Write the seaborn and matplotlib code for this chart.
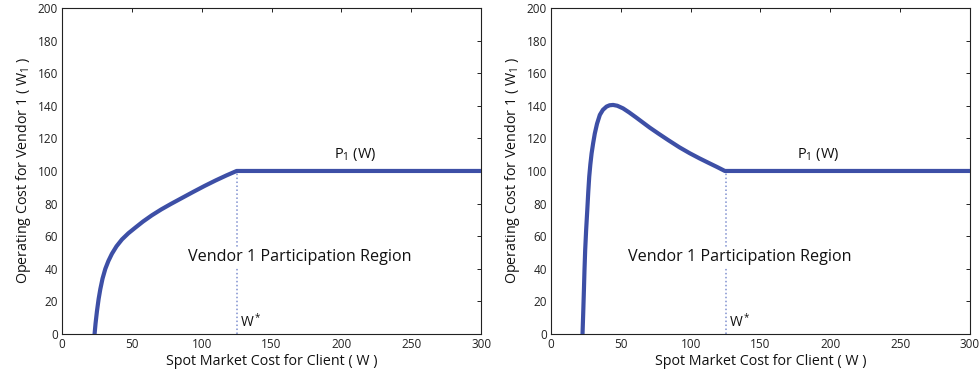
import matplotlib
matplotlib.use("Agg")
import pandas as pd
import seaborn as sns
import matplotlib.pyplot as plt

# values
left_x = [23.3, 24.0, 25.0, 26.2, 27.4, 29.0, 31.0, 33.2, 35.7, 39.0, 42.9, 47.5,
          52.4, 58.0, 64.3, 71.0, 78.0, 86.0, 94.0, 102.0, 110.0, 117.5, 125.0, 300.0]
left_y = [0.0, 6.5, 14.0, 21.5, 27.5, 34.0, 40.0, 44.8, 49.2, 53.8, 58.0, 61.8,
          65.2, 69.0, 72.8, 76.4, 79.8, 83.5, 87.2, 90.8, 94.2, 97.2, 100.0, 100.0]

right_x = [22.6, 23.1, 23.6, 24.0, 24.5, 25.2, 26.0, 26.7, 27.4, 28.2, 29.1, 30.2,
           31.4, 33.0, 35.0, 37.2, 39.8, 42.0, 44.5, 47.5, 51.6, 56.0, 61.0, 66.0,
           70.7, 77.0, 84.0, 92.0, 99.3, 106.4, 113.0, 119.0, 124.5, 300.0]
right_y = [0.0, 13.0, 27.0, 39.0, 51.5, 64.0, 76.0, 87.0, 96.5, 104.0, 110.8, 117.0,
           123.0, 129.0, 134.4, 137.5, 139.5, 140.3, 140.5, 140.0, 138.4, 135.9, 132.8,
           129.6, 126.6, 122.9, 118.9, 114.5, 110.9, 107.7, 104.9, 102.4, 100.0, 100.0]

w_star = 125
region_label = "Vendor 1 Participation Region"

sns.set_theme(style="white")
plt.rcParams['font.family'] = ['Open Sans', 'DejaVu Sans']
plt.rcParams['mathtext.fontset'] = 'custom'
plt.rcParams['mathtext.rm'] = 'Open Sans'
plt.rcParams['mathtext.it'] = 'Open Sans:italic'

line_color = '#3d4fa6'
dot_color = '#7f8fd0'

fig = plt.figure(figsize=(9.8, 3.78), dpi=100)
ax1 = fig.add_axes([0.0633, 0.1164, 0.4276, 0.8626])
ax2 = fig.add_axes([0.5622, 0.1164, 0.4276, 0.8626])

panels = [
    (ax1, left_x, left_y, (170, 47), (195, 110)),
    (ax2, right_x, right_y, (135, 47), (176, 110)),
]

for ax, xs, ys, txt_pos, p_pos in panels:
    df = pd.DataFrame({'W': xs, 'cost': ys})
    ax.plot([w_star, w_star], [0, 100], color=dot_color, linestyle=(0, (1, 1.6)),
            linewidth=1.1, zorder=1)
    sns.lineplot(data=df, x='W', y='cost', ax=ax, sort=False, estimator=None,
                 color=line_color, linewidth=3, zorder=3)
    ax.set_xlim(0, 300)
    ax.set_ylim(0, 200)
    ax.set_xticks([0, 50, 100, 150, 200, 250, 300])
    ax.set_yticks(range(0, 201, 20))
    ax.tick_params(direction='in', length=3, width=0.7, top=True, right=True,
                   labelsize=8.5, colors='#222222', pad=3)
    for s in ax.spines.values():
        s.set_color('#222222')
        s.set_linewidth(0.8)
    ax.set_xlabel('Spot Market Cost for Client ( W )', fontsize=10.3, labelpad=2,
                  color='#111111')
    ax.set_ylabel(r'Operating Cost for Vendor 1 ( W$_1$ )', fontsize=10.3, labelpad=3,
                  color='#111111')
    ax.text(txt_pos[0], txt_pos[1], region_label, ha='center', va='center',
            fontsize=11.6, color='#111111', zorder=4,
            bbox=dict(facecolor='white', edgecolor='none', pad=1.5))
    ax.text(w_star + 2.5, 2, r'W$^*$', ha='left', va='bottom', fontsize=10,
            color='#111111', zorder=4)
    ax.text(p_pos[0], p_pos[1], r'P$_1$ (W)', ha='left', va='center', fontsize=10.5,
            color='#111111', zorder=4)

fig.savefig('out.png', dpi=100)
